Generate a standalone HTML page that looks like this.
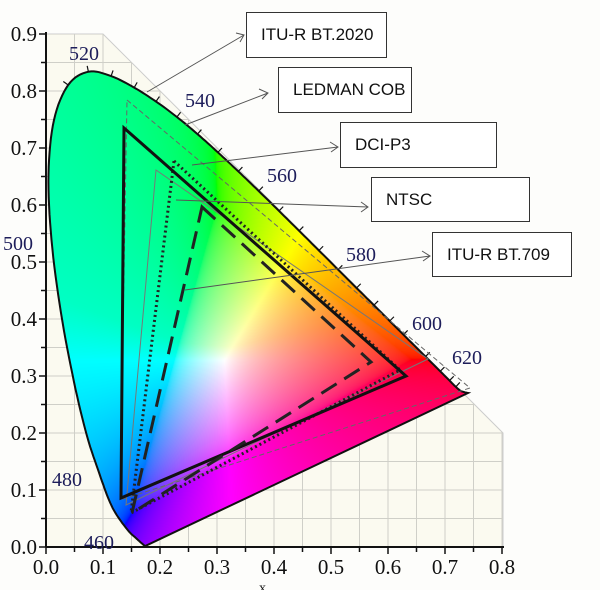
<!DOCTYPE html>
<html><head><meta charset="utf-8"><style>
html,body{margin:0;padding:0;background:#fff;}
#w{position:relative;width:600px;height:590px;overflow:hidden;background:#fdfdfb;}
canvas,svg{position:absolute;left:0;top:0;}
.box{position:absolute;border:1.5px solid #333;background:#fff;font-family:"Liberation Sans",sans-serif;font-size:17px;color:#111;display:flex;align-items:center;padding-left:14px;box-sizing:border-box;}
</style></head><body><div id="w">
<svg width="600" height="590" style="z-index:0">
<defs><clipPath id="gc"><polygon points="46,34 103,34 474,404 503,433 503,547 46,547"/></clipPath></defs>
<polygon points="46,34 103,34 474,404 503,433 503,547 46,547" fill="#fbfaf0" stroke="#ccc"/>
<g clip-path="url(#gc)" stroke="#cfcfc8" stroke-width="1" id="grid"></g>
</svg>
<canvas id="c" width="600" height="590" style="z-index:1"></canvas>
<svg width="600" height="590" style="z-index:2" font-family="Liberation Serif,serif">
<path id="locp" fill="none" stroke="#111" stroke-width="2" d=""/>
<g id="lt" stroke="#111" stroke-width="1.2"></g>
<polygon points="127,100 470,388 120,500" fill="none" stroke="#666" stroke-width="1" stroke-dasharray="5,3"/>
<polygon points="156,170 428,359 126,505" fill="none" stroke="#777" stroke-width="1"/>
<polygon points="174,161 400,370 131,513" fill="none" stroke="#222" stroke-width="3" stroke-dasharray="2,3"/>
<polygon points="124,128 406,376 121,498" fill="none" stroke="#111" stroke-width="3"/>
<polygon points="202,207 371,362 132,513" fill="none" stroke="#222" stroke-width="3" stroke-dasharray="18,9"/>
<g stroke="#555" stroke-width="1" fill="none">
<path d="M147,92 L244,35 M236,33 L244,35 L240,42"/>
<path d="M185,125 L268,93 M259,89 L268,93 L262,99"/>
<path d="M192,165 L338,147 M330,142 L338,147 L331,152"/>
<path d="M176,200 L368,207 M361,202 L368,207 L361,212"/>
<path d="M185,290 L430,256 M422,251 L430,256 L423,261"/>
</g>
<g stroke="#111" stroke-width="2"><line x1="46" y1="547" x2="504" y2="547"/><line x1="46" y1="547" x2="46" y2="32"/></g>
<g id="ticks" stroke="#111" stroke-width="1.5"></g>
<g font-size="21" fill="#111" id="labs"></g>
<g font-size="20" fill="#1d1d5a">
<text x="69" y="60">520</text><text x="185" y="107">540</text><text x="267" y="182">560</text>
<text x="346" y="261">580</text><text x="412" y="330">600</text><text x="452" y="364">620</text>
<text x="3" y="250">500</text><text x="52" y="486">480</text><text x="84" y="549">460</text>
</g>
<text x="259" y="592" font-size="14" fill="#111">x</text>
</svg>
<div class="box" style="left:246px;top:12px;width:141px;height:46px;z-index:3">ITU-R BT.2020</div>
<div class="box" style="left:278px;top:67px;width:134px;height:46px;z-index:3">LEDMAN COB</div>
<div class="box" style="left:340px;top:122px;width:157px;height:46px;z-index:3">DCI-P3</div>
<div class="box" style="left:371px;top:177px;width:159px;height:45px;z-index:3">NTSC</div>
<div class="box" style="left:432px;top:232px;width:140px;height:45px;z-index:3">ITU-R BT.709</div>
</div>
<script>
var NS="http://www.w3.org/2000/svg";
function el(p,t,a){var e=document.createElementNS(NS,t);for(var k in a)e.setAttribute(k,a[k]);p.appendChild(e);return e;}
var g=document.getElementById('grid');
for(var i=1;i<=16;i++){var x=46+28.5*i;el(g,'line',{x1:x,y1:20,x2:x,y2:547});}
for(var i=1;i<=18;i++){var y=547-28.5*i;el(g,'line',{x1:46,y1:y,x2:520,y2:y});}
var t=document.getElementById('ticks'),l=document.getElementById('labs');
for(var i=0;i<=16;i++){var x=46+28.5*i,big=i%2==0;el(t,'line',{x1:x,y1:547,x2:x,y2:547+(big?7:5)});
 if(big){var s=el(l,'text',{x:x,y:574,'text-anchor':'middle'});s.textContent=(i/20).toFixed(1);}}
for(var i=0;i<=18;i++){var y=547-28.5*i,big=i%2==0;el(t,'line',{x1:46,y1:y,x2:46-(big?7:5),y2:y});
 if(big){var s=el(l,'text',{x:37,y:y+7,'text-anchor':'end'});s.textContent=(i/20).toFixed(1);}}
var raw=[[145.2,546],[143.7,545],[139.7,541.5],[135.3,537.5],[128.1,530.5],[116.7,515],[109,500],[99.5,474],[87,436],[74,382],[61,313],[51.5,240],[48.5,174],[54,120],[68.2,85],[88.4,71.7],[111.1,76.1],[134.2,87.6],[156.0,101.5],[176.9,117.0],[197.5,134.1],[217.9,152.4],[238.3,171.4],[258.7,191.0],[279.0,210.9],[299.1,230.8],[318.9,250.5],[338.1,269.6],[356.5,288.0],[373.9,305.2],[389.7,321.0],[403.4,334.7],[425.5,356.6],[440.2,371.3],[449.5,380.6],[455.8,386.9],[461,391],[468,393]];
var pts=[];
for(var i=0;i<raw.length-1;i++){var p0=raw[Math.max(0,i-1)],p1=raw[i],p2=raw[i+1],p3=raw[Math.min(raw.length-1,i+2)];
 for(var k=0;k<8;k++){var u=k/8,u2=u*u,u3=u2*u;
  pts.push([0.5*(2*p1[0]+(-p0[0]+p2[0])*u+(2*p0[0]-5*p1[0]+4*p2[0]-p3[0])*u2+(-p0[0]+3*p1[0]-3*p2[0]+p3[0])*u3),
            0.5*(2*p1[1]+(-p0[1]+p2[1])*u+(2*p0[1]-5*p1[1]+4*p2[1]-p3[1])*u2+(-p0[1]+3*p1[1]-3*p2[1]+p3[1])*u3)]);}}
pts.push(raw[raw.length-1]);
var dstr='M'+pts.map(function(p){return p[0].toFixed(1)+','+p[1].toFixed(1);}).join(' L')+' Z';
document.getElementById('locp').setAttribute('d',dstr);
var lt=document.getElementById('lt');
for(var i=14;i<raw.length-2;i++){var a=raw[i-1],b=raw[i+1],c0=raw[i];var dx=b[0]-a[0],dy=b[1]-a[1],n=Math.hypot(dx,dy);var nx=dy/n,ny=-dx/n;
 el(lt,'line',{x1:c0[0],y1:c0[1],x2:c0[0]+nx*6,y2:c0[1]+ny*6});}
var c=document.getElementById('c'),ctx=c.getContext('2d');
var img=ctx.createImageData(600,590),d=img.data;
var pth=new Path2D(dstr);
for(var py=0;py<590;py++)for(var px=0;px<600;px++){
 if(!ctx.isPointInPath(pth,px+.5,py+.5))continue;
 var x=(px-46)/570,y=(547-py)/570;if(y<0.003)y=0.003;
 var X=x/y,Y=1,Z=(1-x-y)/y;
 var r=3.2406*X-1.5372*Y-0.4986*Z,gg=-0.9689*X+1.8758*Y+0.0415*Z,b=0.0557*X-0.2040*Y+1.0570*Z;
 var m=Math.min(r,gg,b);if(m<0){r-=m;gg-=m;b-=m;}
 var M=Math.max(r,gg,b);r/=M;gg/=M;b/=M;
 b*=1-0.3*Math.min(1,Math.max(0,(gg-b)*5));
 var o=(py*600+px)*4;
 d[o]=255*Math.pow(r,1/2.2);d[o+1]=255*Math.pow(gg,1/2.2);d[o+2]=255*Math.pow(b,1/2.2);d[o+3]=255;}
ctx.putImageData(img,0,0);
</script>
</body></html>
